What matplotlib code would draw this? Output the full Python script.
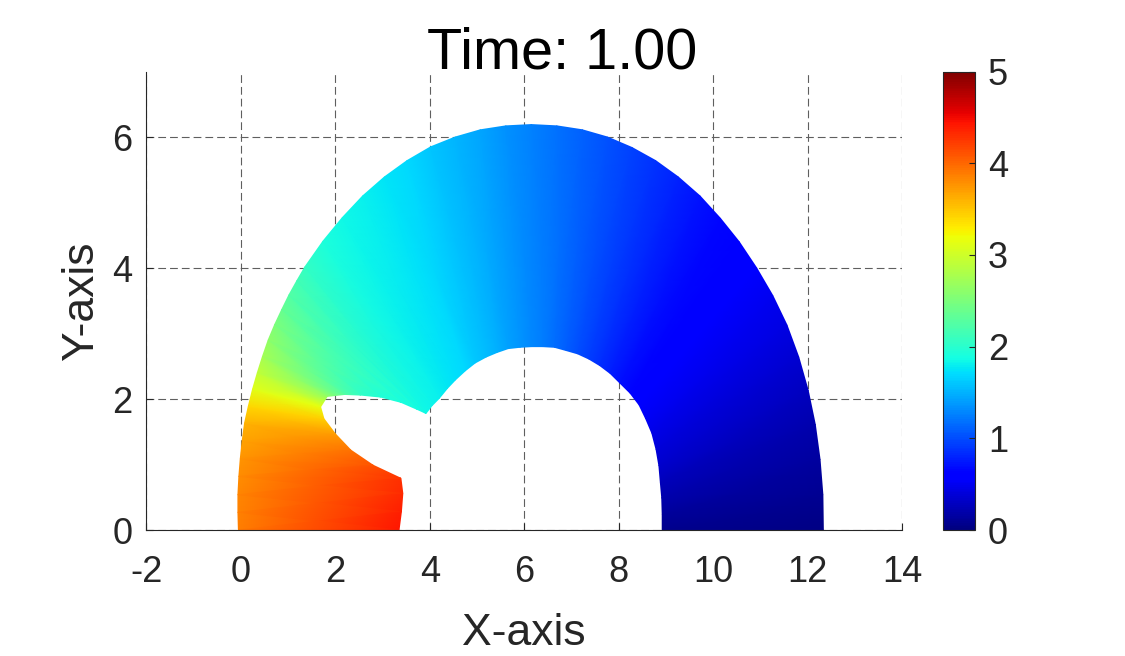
import numpy as np
import matplotlib.pyplot as plt

plt.rcParams['font.family'] = ['Liberation Sans', 'DejaVu Sans']

# outer edge of the deformed arch, left foot -> top -> right foot
outer_x = [-0.05, -0.06, -0.06, -0.04, -0.01, 0.03, 0.08, 0.16, 0.25, 0.35, 0.46, 0.58,
           0.72, 0.87, 1.02, 1.19, 1.36, 1.74, 2.15, 2.58, 3.04, 3.52, 4.02, 4.54,
           5.07, 5.61, 6.15, 6.69, 7.23, 7.76, 8.28, 8.78, 9.26, 9.72, 10.15, 10.55,
           10.92, 11.26, 11.56, 11.81, 12.01, 12.16, 12.26, 12.32, 12.33]
outer_y = [0.00, 0.27, 0.54, 0.82, 1.09, 1.36, 1.63, 1.89, 2.15, 2.40, 2.65, 2.90,
           3.14, 3.37, 3.59, 3.81, 4.02, 4.41, 4.77, 5.10, 5.39, 5.64, 5.85, 6.00,
           6.11, 6.17, 6.19, 6.17, 6.11, 6.00, 5.84, 5.64, 5.39, 5.10, 4.76, 4.40,
           4.00, 3.58, 3.13, 2.64, 2.13, 1.61, 1.08, 0.54, 0.00]
outer_val = [3.88, 3.86, 3.83, 3.80, 3.75, 3.69, 3.60, 3.40, 3.12, 2.92, 2.75, 2.62,
             2.50, 2.38, 2.26, 2.15, 2.06, 1.93, 1.85, 1.80, 1.75, 1.68, 1.60, 1.52,
             1.43, 1.34, 1.26, 1.19, 1.11, 1.03, 0.95, 0.87, 0.79, 0.72, 0.66, 0.62,
             0.58, 0.50, 0.43, 0.36, 0.28, 0.21, 0.14, 0.08, 0.03]

# inner edge (notch + hole), same ordering
inner_x = [3.35, 3.40, 3.43, 3.39, 2.80, 2.33, 2.00, 1.76, 1.69, 1.83, 2.20, 2.54,
           2.96, 3.39, 3.74, 3.92, 4.05, 4.20, 4.37, 4.54, 4.75, 4.96, 5.19, 5.42,
           5.66, 5.91, 6.15, 6.39, 6.64, 6.89, 7.13, 7.37, 7.60, 7.82, 8.03, 8.24,
           8.43, 8.57, 8.70, 8.79, 8.85, 8.88, 8.91, 8.92, 8.92]
inner_y = [0.00, 0.28, 0.56, 0.79, 0.99, 1.22, 1.47, 1.70, 1.88, 2.04, 2.07, 2.06,
           2.03, 1.95, 1.84, 1.78, 1.90, 2.01, 2.16, 2.29, 2.43, 2.55, 2.64, 2.71,
           2.77, 2.79, 2.80, 2.80, 2.79, 2.74, 2.69, 2.61, 2.51, 2.39, 2.24, 2.09,
           1.91, 1.70, 1.48, 1.23, 0.98, 0.73, 0.49, 0.24, 0.00]
inner_val = [4.42, 4.38, 4.33, 4.28, 4.12, 3.94, 3.72, 3.45, 3.15, 2.65, 2.25, 2.05,
             1.95, 1.90, 1.87, 1.85, 1.83, 1.80, 1.77, 1.73, 1.68, 1.62, 1.56, 1.49,
             1.42, 1.36, 1.30, 1.24, 1.17, 1.09, 1.01, 0.93, 0.85, 0.77, 0.70, 0.64,
             0.58, 0.52, 0.46, 0.40, 0.34, 0.27, 0.20, 0.13, 0.07]

X = np.array([outer_x, inner_x])
Y = np.array([outer_y, inner_y])
C = np.array([outer_val, inner_val])

fig = plt.figure(figsize=(11.25, 6.56), dpi=100)
ax = fig.add_axes([0.130, 0.192, 0.672, 0.699])

mesh = ax.pcolormesh(X, Y, C, shading='gouraud', cmap='jet', vmin=0, vmax=5)

ax.set_xlim(-2, 14)
ax.set_ylim(0, 7)
ax.set_xticks(range(-2, 15, 2))
ax.set_yticks(range(0, 7, 2))
ax.set_xticklabels([str(v) for v in range(-2, 15, 2)])
ax.grid(True, linestyle=(0, (7, 3.6)), color='#5f5f5f', linewidth=0.8)
ax.set_axisbelow(True)
for s in ['top', 'right']:
    ax.spines[s].set_visible(False)
for s in ['left', 'bottom']:
    ax.spines[s].set_color('#262626')
    ax.spines[s].set_linewidth(0.8)
ax.tick_params(axis='x', direction='in', length=5, width=0.8, color='#262626',
               labelsize=26, labelcolor='#262626', pad=18)
ax.tick_params(axis='y', direction='in', length=5, width=0.8, color='#262626',
               labelsize=26, labelcolor='#262626', pad=10)

ax.set_xlabel('X-axis', fontsize=32, color='#262626')
ax.xaxis.label.set_va('baseline')
ax.xaxis.set_label_coords(0.5, -0.251)
ax.set_ylabel('Y-axis', fontsize=32, color='#262626')
ax.yaxis.label.set_va('baseline')
ax.yaxis.set_label_coords(-0.07, 0.5)

fig.text(0.4995, 0.896, 'Time: 1.00', fontsize=41.5, color='black',
         ha='center', va='baseline')

cax = fig.add_axes([0.838, 0.192, 0.029, 0.699])
cb = fig.colorbar(mesh, cax=cax, ticks=range(0, 6))
cb.outline.set_linewidth(0.8)
cb.outline.set_edgecolor('#262626')
cax.tick_params(direction='in', length=4, width=0.8, color='#262626',
                labelsize=26, labelcolor='#262626', pad=9)

plt.savefig('out.png', dpi=100)
